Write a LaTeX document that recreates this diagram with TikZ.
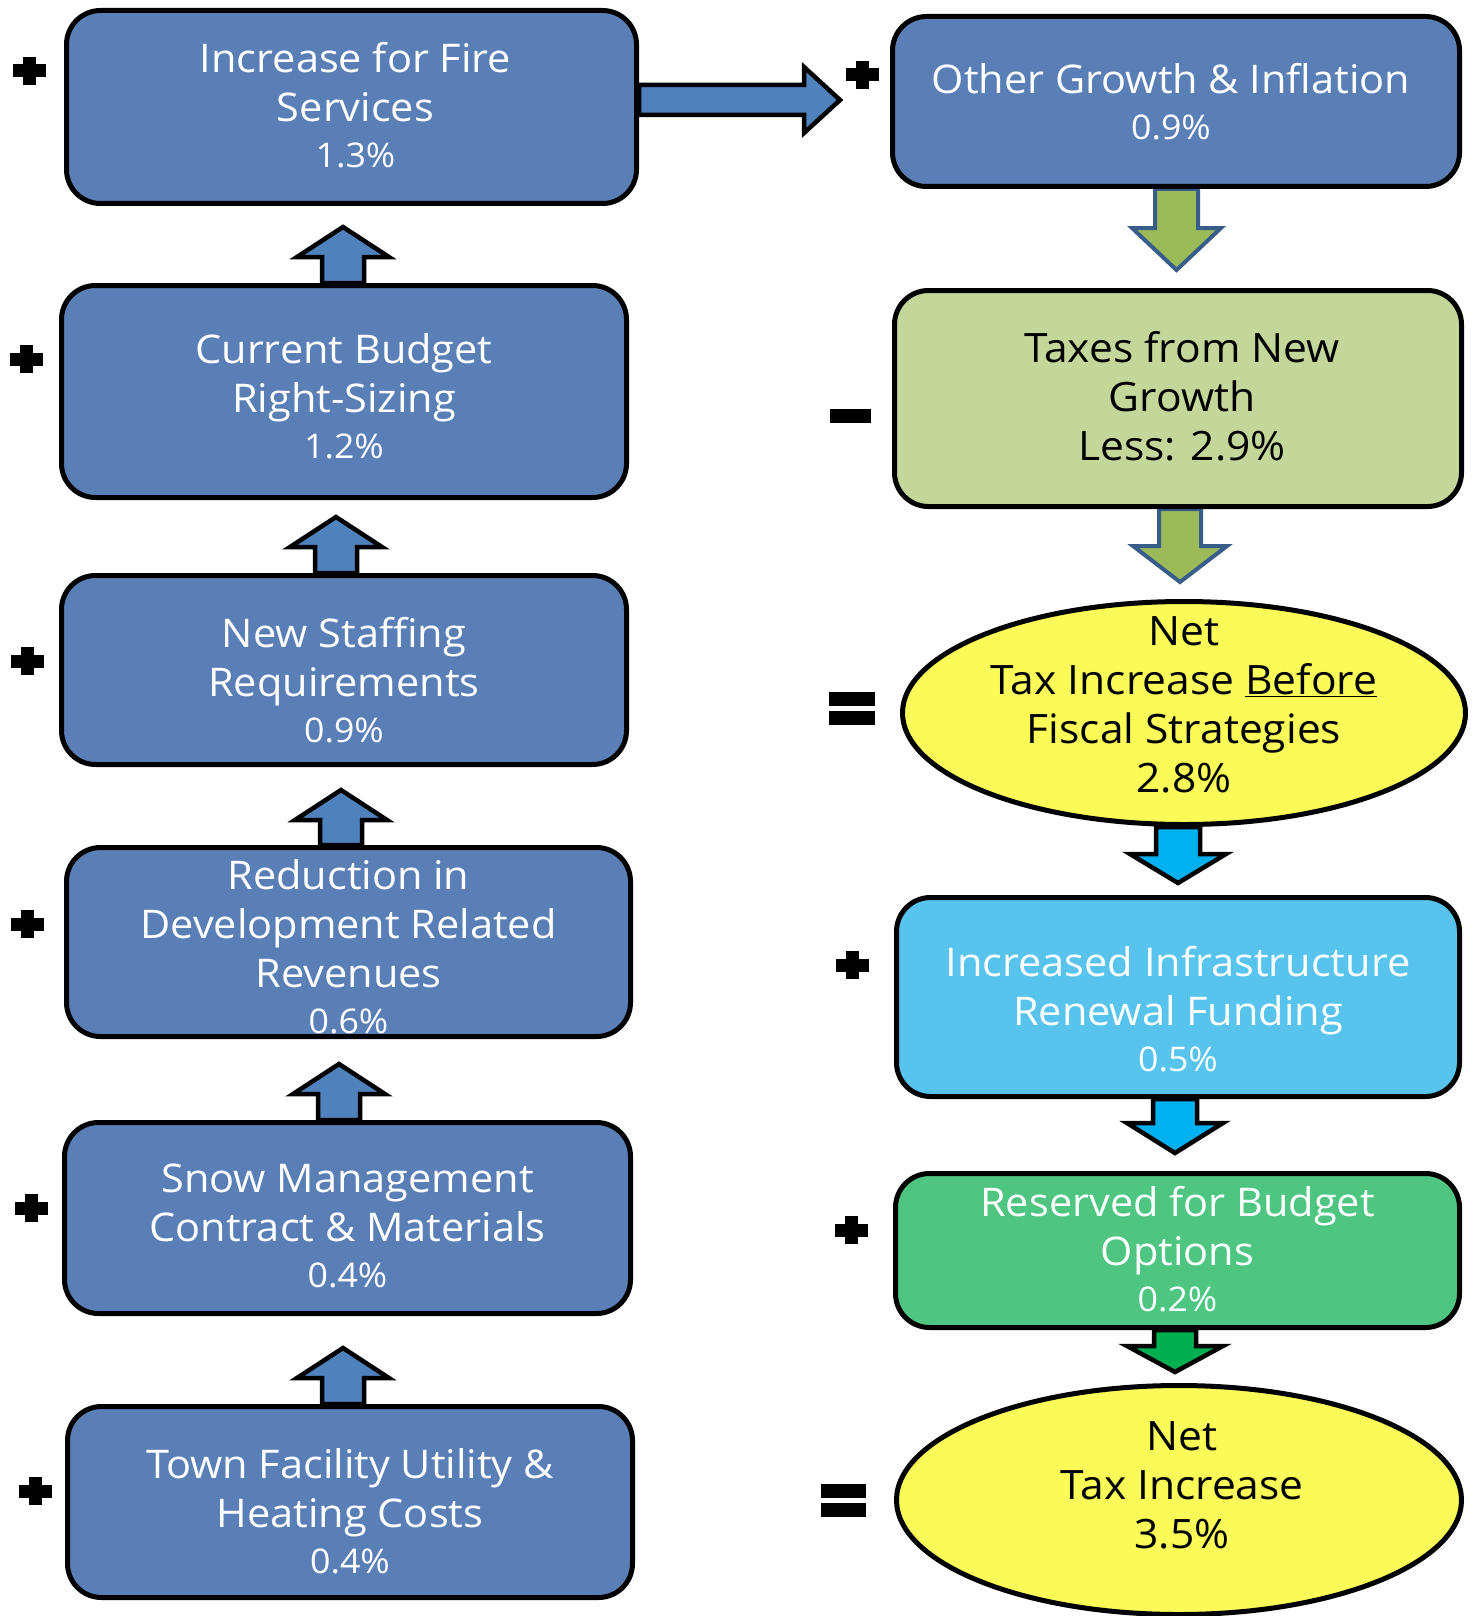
\documentclass[tikz,border=0pt]{standalone}
\usepackage{fontspec}
\setmainfont{Open Sans}[FakeStretch=1.05]
\usetikzlibrary{calc,shapes.geometric,backgrounds}
\definecolor{boxblue}{RGB}{90,127,182}
\definecolor{arrblue}{RGB}{79,129,189}
\definecolor{olivebox}{RGB}{196,215,155}
\definecolor{olivearr}{RGB}{155,187,89}
\definecolor{bordblue}{RGB}{56,93,138}
\definecolor{yellowov}{RGB}{250,250,88}
\definecolor{cyanbox}{RGB}{88,196,238}
\definecolor{cyanarr}{RGB}{0,176,240}
\definecolor{greenbox}{RGB}{78,198,130}
\definecolor{greenarr}{RGB}{0,176,80}
\newcommand\mytxtsize{\fontsize{39.5}{49}\selectfont}
\newcommand\mykblsize{\fontsize{40.5}{49}\selectfont}
\newcommand\mypct[1]{\\[-3pt]{\fontsize{34}{40}\selectfont #1}}
% vertical block arrows: #1 style, #2 base point, #3 tip point (only y used), #4 shaft half, #5 head half, #6 head length
\newcommand\uparr[6]{\draw[#1] let \p1=#2, \p2=#3 in
  (\x1-#4pt,\y1) -- (\x1-#4pt,\y2-#6pt) -- (\x1-#5pt,\y2-#6pt) -- (\x1,\y2)
  -- (\x1+#5pt,\y2-#6pt) -- (\x1+#4pt,\y2-#6pt) -- (\x1+#4pt,\y1) -- cycle;}
\newcommand\downarr[6]{\draw[#1] let \p1=#2, \p2=#3 in
  (\x1-#4pt,\y1) -- (\x1-#4pt,\y2+#6pt) -- (\x1-#5pt,\y2+#6pt) -- (\x1,\y2)
  -- (\x1+#5pt,\y2+#6pt) -- (\x1+#4pt,\y2+#6pt) -- (\x1+#4pt,\y1) -- cycle;}
\newcommand\plusmark[2]{\fill (#1-16.5,#2-6.5) rectangle (#1+16.5,#2+6.5);
  \fill (#1-6.5,#2-14) rectangle (#1+6.5,#2+14);}
\begin{document}
\begin{tikzpicture}[x=1pt,y=-1pt,
  box/.style={draw=black,line width=5pt,rounded corners=34pt,inner sep=0pt},
  oval/.style={draw=black,line width=5pt,ellipse,inner sep=0pt},
  wtxt/.style={text=white,align=center,font=\mytxtsize,inner sep=0pt},
  ktxt/.style={text=black,align=center,font=\mykblsize,inner sep=0pt},
  blueA/.style={fill=arrblue,draw=black,line width=4.5pt,line join=miter},
  oliveA/.style={fill=olivearr,draw=bordblue,line width=4pt,line join=miter},
  cyanA/.style={fill=cyanarr,draw=black,line width=4.5pt,line join=miter},
  greenA/.style={fill=greenarr,draw=black,line width=4.5pt,line join=miter}]
\useasboundingbox (0,0) rectangle (1476,1616);

% left column boxes
\node[box,fill=boxblue,minimum width=570pt,minimum height=193pt] (b1) at (351.5,107) {};
\node[box,fill=boxblue,minimum width=565pt,minimum height=212pt] (b2) at (344,391.5) {};
\node[box,fill=boxblue,minimum width=565pt,minimum height=189pt] (b3) at (344,670) {};
\node[box,fill=boxblue,minimum width=564pt,minimum height=189pt] (b4) at (348.5,942) {};
\node[box,fill=boxblue,minimum width=566pt,minimum height=191pt] (b5) at (347.5,1218) {};
\node[box,fill=boxblue,minimum width=565pt,minimum height=191pt] (b6) at (350,1502) {};

% right column
\node[box,fill=boxblue,minimum width=567pt,minimum height=170pt] (r1) at (1176,101.5) {};
\node[box,fill=olivebox,minimum width=567pt,minimum height=216pt] (r2) at (1178,398.5) {};
\node[oval,fill=yellowov,minimum width=563pt,minimum height=223pt] (e1) at (1184,713) {};
\node[box,fill=cyanbox,minimum width=563pt,minimum height=199pt] (r4) at (1178,997) {};
\node[box,fill=greenbox,minimum width=564pt,minimum height=154pt] (r5) at (1177.5,1250.5) {};
\node[oval,fill=yellowov,minimum width=565pt,minimum height=229pt] (e2) at (1179,1500) {};

% texts
\node[wtxt] (t1) at ($(b1.center)+(4,-2)$) {Increase for Fire\\Services\mypct{1.3\%}};
\node[wtxt] (t2) at ($(b2.center)+(0,4.5)$) {Current Budget\\Right-Sizing\mypct{1.2\%}};
\node[wtxt] (t3) at ($(b3.center)+(0,10)$) {New Staffing\\Requirements\mypct{0.9\%}};
\node[wtxt] (t4) at ($(b4.center)+(0,5)$) {Reduction in\\Development Related\\Revenues\mypct{0.6\%}};
\node[wtxt] (t5) at ($(b5.center)+(0,8)$) {Snow Management\\Contract \& Materials\mypct{0.4\%}};
\node[wtxt] (t6) at ($(b6.center)+(0,9)$) {Town Facility Utility \&\\Heating Costs\mypct{0.4\%}};
\node[wtxt] (u1) at ($(r1.center)+(-5,0)$) {Other Growth \& Inflation\mypct{0.9\%}};
\node[ktxt] (u2) at ($(r2.center)+(4,-2.5)$) {Taxes from New\\Growth\\Less: 2.9\%};
\node[ktxt] (u3) at ($(e1.center)+(0,-8)$) {Net\\Tax Increase \underline{Before}\\Fiscal Strategies\\2.8\%};
\node[wtxt] (u4) at ($(r4.center)+(0,12.5)$) {Increased Infrastructure\\Renewal Funding\mypct{0.5\%}};
\node[wtxt] (u5) at ($(r5.center)+(0,-1.5)$) {Reserved for Budget\\Options\mypct{0.2\%}};
\node[ktxt] (u6) at ($(e2.center)+(3,-15)$) {Net\\Tax Increase\\3.5\%};

% connectors (block arrows) behind the boxes
\begin{pgfonlayer}{background}
\uparr{blueA}{($(b2.north)+(-1,0)$)}{($(b1.south)+(0,21)$)}{21}{46}{30}
\uparr{blueA}{($(b3.north)+(-8,0)$)}{($(b2.south)+(0,17)$)}{21}{46}{30}
\uparr{blueA}{($(b4.north)+(-7.5,0)$)}{($(b3.south)+(0,23)$)}{21}{46}{30}
\uparr{blueA}{($(b5.north)+(-8.5,0)$)}{($(b4.south)+(0,25)$)}{21}{46}{30}
\uparr{blueA}{($(b6.north)+(-7,0)$)}{($(b5.south)+(0,32)$)}{21}{46}{30}
\draw[blueA] let \p1=($(b1.east)+(0,-7)$), \p2=($(r1.west)+(-50,0)$) in
  (\x1,\y1+15pt) -- (\x2-36pt,\y1+15pt) -- (\x2-36pt,\y1+33pt) -- (\x2,\y1)
  -- (\x2-36pt,\y1-33pt) -- (\x2-36pt,\y1-15pt) -- (\x1,\y1-15pt) -- cycle;
\downarr{oliveA}{($(r1.south)+(0.5,0)$)}{($(r2.north)+(0,-18)$)}{21.5}{44.5}{42}
\downarr{oliveA}{($(r2.south)+(2,0)$)}{($(e1.north)+(0,-17)$)}{21}{47}{36}
\downarr{cyanA}{($(e1.south)+(-6,0)$)}{($(r4.north)+(0,-12)$)}{22}{48}{29}
\downarr{cyanA}{($(r4.south)+(-3,0)$)}{($(r5.north)+(0,-18)$)}{22}{48}{30}
\downarr{greenA}{($(r5.south)+(-2.5,0)$)}{($(e2.north)+(0,-11)$)}{21}{48}{26}
\end{pgfonlayer}

% operator signs
\plusmark{29}{71}
\plusmark{26.5}{359}
\plusmark{27}{661}
\plusmark{27}{924}
\plusmark{31}{1208}
\plusmark{35}{1491}
\plusmark{862}{75}
\fill (830,409) rectangle (871,423);
\fill (829,692) rectangle (875,706);
\fill (829,711) rectangle (875,725);
\plusmark{852}{965}
\plusmark{851}{1230}
\fill (821,1484) rectangle (866,1498);
\fill (821,1503) rectangle (866,1517);
\end{tikzpicture}
\end{document}
